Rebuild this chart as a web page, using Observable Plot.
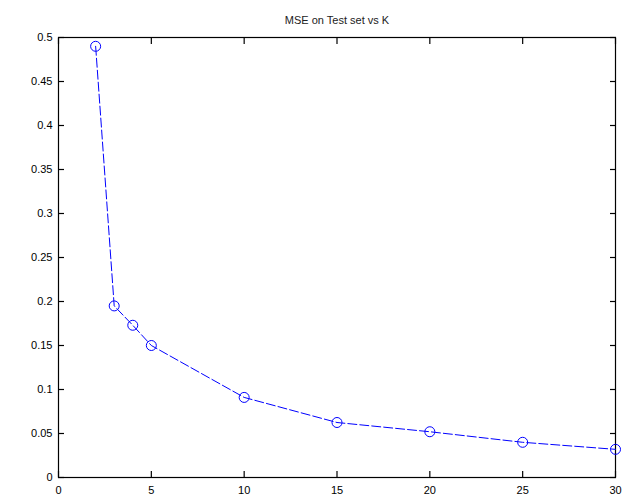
<!DOCTYPE html>
<html>
<head>
<meta charset="utf-8">
<script src="https://cdn.jsdelivr.net/npm/d3@7"></script>
<script src="https://cdn.jsdelivr.net/npm/@observablehq/plot@0.6"></script>
<style>
  html, body { margin: 0; padding: 0; background: #fff; }
  svg { display: block; }
</style>
</head>
<body>
<div id="chart"></div>
<script>
const title = "MSE on Test set vs K";
const kValues = [2, 3, 4, 5, 10, 15, 20, 25, 30];
const mseValues = [0.49, 0.195, 0.173, 0.150, 0.091, 0.0625, 0.052, 0.040, 0.032];
const xTicks = [0, 5, 10, 15, 20, 25, 30];
const yTicks = [0, 0.05, 0.1, 0.15, 0.2, 0.25, 0.3, 0.35, 0.4, 0.45, 0.5];

const data = kValues.map((k, i) => ({k, mse: mseValues[i]}));
const fmt = d => String(+d.toFixed(2));

const chart = Plot.plot({
  width: 627,
  height: 502,
  marginLeft: 58,
  marginRight: 12,
  marginTop: 37,
  marginBottom: 25,
  style: {fontFamily: "'Liberation Sans', Arial, sans-serif", fontSize: "11px", color: "#000", background: "#fff"},
  x: {domain: [0, 30]},
  y: {domain: [0, 0.5]},
  marks: [
    Plot.frame({stroke: "black", strokeWidth: 1.2}),
    Plot.axisX(xTicks, {anchor: "bottom", tickSize: -6, tickPadding: 15, tickFormat: fmt, label: null, strokeWidth: 1.2}),
    Plot.axisX(xTicks, {anchor: "top", tickSize: -6, tickFormat: () => "", label: null, strokeWidth: 1.2}),
    Plot.axisY(yTicks, {anchor: "left", tickSize: -6, tickPadding: 12, tickFormat: fmt, label: null, strokeWidth: 1.2}),
    Plot.axisY(yTicks, {anchor: "right", tickSize: -6, tickFormat: () => "", label: null, strokeWidth: 1.2}),
    Plot.line(data, {x: "k", y: "mse", stroke: "#0000ff", strokeWidth: 1, strokeDasharray: "9,3"}),
    Plot.dot(data, {x: "k", y: "mse", r: 5, stroke: "#0000ff", strokeWidth: 1, fill: "none"}),
    Plot.text([title], {frameAnchor: "top", dy: -21, text: d => d, fontSize: 11, fill: "#222"})
  ]
});
document.getElementById("chart").appendChild(chart);
</script>
</body>
</html>
